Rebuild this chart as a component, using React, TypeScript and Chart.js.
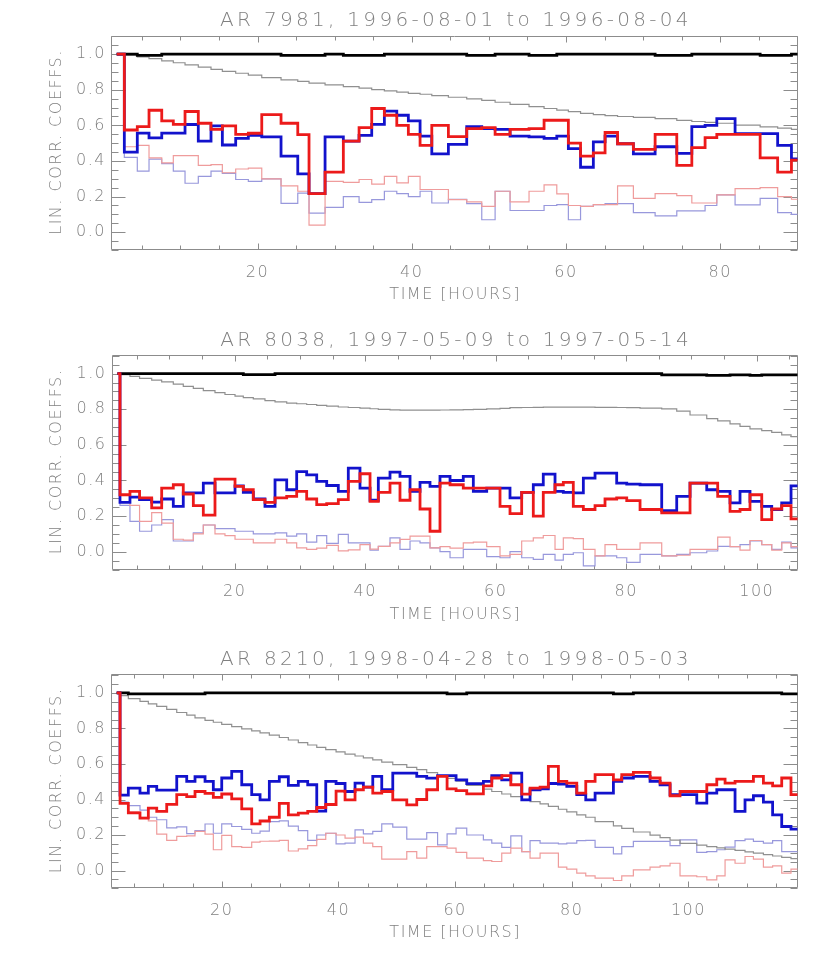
import React, { useEffect, useRef } from 'react';
import { Chart, registerables } from 'chart.js';

Chart.register(...registerables);

// ---------------- data ----------------
const X_LABEL = 'TIME [HOURS]';
const Y_LABEL = 'LIN. CORR. COEFFS.';
const Y_TICKS = [0, 0.2, 0.4, 0.6, 0.8, 1.0];
const Y_RANGE = [-0.1, 1.105];

// Panel 1: AR 7981
const TITLE_1 = 'AR 7981, 1996-08-01 to 1996-08-04';
const X_TICKS_1 = [20, 40, 60, 80];
const X_RANGE_1 = [1.0, 90.05];
const EDGES_1 = [1.74, 2.73, 4.41, 5.93, 7.58, 9.08, 10.6, 12.32, 13.97, 15.44, 17.17, 18.81, 20.55, 23.05, 25.22, 26.68, 28.76, 31.13, 33.17, 34.81, 36.45, 38.06, 39.56, 41.08, 42.6, 44.75, 47.13, 49.08, 50.81, 52.75, 55.21, 57.16, 58.81, 60.31, 61.89, 63.55, 65.07, 66.69, 68.74, 71.56, 74.37, 76.32, 78.04, 79.56, 81.93, 85.18, 87.45, 89.24, 90.05];
const BLACK_1 = [1, 1, 0.993, 0.993, 1, 1, 1, 1, 1, 1, 1, 1, 1, 0.993, 0.993, 0.993, 1, 0.993, 0.993, 0.993, 1, 1, 1, 1, 1, 1, 0.993, 0.993, 1, 1, 0.993, 0.993, 1, 1, 1, 1, 1, 1, 1, 0.993, 0.993, 1, 1, 1, 1, 0.993, 0.993, 1];
const GRAY_1 = [1.0, 0.995, 0.985, 0.975, 0.963, 0.952, 0.94, 0.927, 0.915, 0.903, 0.893, 0.882, 0.868, 0.856, 0.847, 0.838, 0.828, 0.818, 0.809, 0.801, 0.794, 0.787, 0.78, 0.775, 0.767, 0.758, 0.749, 0.741, 0.73, 0.718, 0.705, 0.695, 0.686, 0.677, 0.668, 0.66, 0.655, 0.65, 0.645, 0.638, 0.628, 0.622, 0.617, 0.612, 0.602, 0.592, 0.585, 0.578];
const BLUE_1 = [1.0, 0.45, 0.557, 0.53, 0.557, 0.557, 0.605, 0.512, 0.597, 0.49, 0.527, 0.544, 0.535, 0.427, 0.328, 0.217, 0.535, 0.512, 0.544, 0.606, 0.68, 0.657, 0.625, 0.54, 0.44, 0.493, 0.593, 0.582, 0.578, 0.54, 0.535, 0.527, 0.54, 0.469, 0.365, 0.507, 0.54, 0.497, 0.44, 0.48, 0.443, 0.593, 0.6, 0.638, 0.554, 0.554, 0.488, 0.412];
const RED_1 = [1.0, 0.574, 0.593, 0.685, 0.625, 0.606, 0.678, 0.612, 0.578, 0.597, 0.55, 0.556, 0.661, 0.612, 0.548, 0.217, 0.337, 0.512, 0.588, 0.695, 0.657, 0.6, 0.55, 0.488, 0.6, 0.537, 0.582, 0.588, 0.55, 0.578, 0.582, 0.629, 0.629, 0.5, 0.427, 0.446, 0.56, 0.497, 0.465, 0.55, 0.375, 0.475, 0.531, 0.55, 0.55, 0.418, 0.337, 0.405];
const PINK_1 = [1.0, 0.48, 0.488, 0.418, 0.39, 0.43, 0.43, 0.375, 0.38, 0.334, 0.355, 0.36, 0.3, 0.26, 0.23, 0.04, 0.285, 0.28, 0.296, 0.27, 0.314, 0.277, 0.314, 0.24, 0.24, 0.183, 0.17, 0.145, 0.23, 0.17, 0.23, 0.266, 0.215, 0.15, 0.145, 0.155, 0.155, 0.26, 0.19, 0.217, 0.205, 0.164, 0.164, 0.21, 0.245, 0.25, 0.2, 0.185];
const LBLUE_1 = [1.0, 0.42, 0.343, 0.41, 0.385, 0.343, 0.275, 0.314, 0.343, 0.33, 0.296, 0.285, 0.3, 0.162, 0.22, 0.107, 0.14, 0.2, 0.168, 0.183, 0.23, 0.217, 0.2, 0.23, 0.164, 0.185, 0.16, 0.07, 0.23, 0.122, 0.122, 0.15, 0.155, 0.07, 0.145, 0.155, 0.16, 0.16, 0.11, 0.092, 0.12, 0.12, 0.15, 0.21, 0.154, 0.19, 0.11, 0.1];

// Panel 2: AR 8038
const TITLE_2 = 'AR 8038, 1997-05-09 to 1997-05-14';
const X_TICKS_2 = [20, 40, 60, 80, 100];
const X_RANGE_2 = [1.12, 106.28];
const EDGES_2 = [2.04, 2.42, 3.95, 5.42, 7.28, 8.81, 10.59, 12.12, 13.66, 15.19, 16.98, 18.51, 20.05, 21.32, 22.85, 24.64, 26.18, 27.97, 29.5, 31.03, 32.57, 34.1, 35.88, 37.41, 39.2, 40.74, 42.01, 43.8, 45.33, 46.87, 48.4, 49.93, 51.46, 53.0, 55.03, 56.57, 58.62, 60.66, 62.19, 63.98, 65.76, 67.29, 69.09, 70.36, 71.89, 73.43, 75.22, 76.75, 78.54, 80.08, 82.12, 85.44, 87.74, 89.78, 92.34, 94.02, 95.91, 97.44, 98.97, 100.77, 102.3, 103.83, 105.26, 106.28];
const BLACK_2 = [1, 1, 1, 1, 1, 1, 1, 1, 1, 1, 1, 1, 1, 0.995, 0.995, 0.995, 1, 1, 1, 1, 1, 1, 1, 1, 1, 1, 1, 1, 1, 1, 1, 1, 1, 1, 1, 1, 1, 1, 1, 1, 1, 1, 1, 1, 1, 1, 1, 1, 1, 1, 1, 0.993, 0.993, 0.993, 0.99, 0.99, 0.993, 0.993, 0.99, 0.993, 0.993, 0.993, 0.993];
const GRAY_2 = [1.0, 0.995, 0.985, 0.974, 0.964, 0.954, 0.941, 0.929, 0.917, 0.905, 0.894, 0.883, 0.874, 0.866, 0.858, 0.849, 0.842, 0.835, 0.831, 0.827, 0.822, 0.818, 0.813, 0.81, 0.806, 0.803, 0.8, 0.797, 0.795, 0.795, 0.795, 0.795, 0.796, 0.797, 0.798, 0.799, 0.802, 0.805, 0.809, 0.81, 0.811, 0.812, 0.812, 0.812, 0.812, 0.812, 0.811, 0.811, 0.81, 0.809, 0.806, 0.802, 0.79, 0.768, 0.748, 0.735, 0.718, 0.704, 0.69, 0.68, 0.67, 0.656, 0.647];
const BLUE_2 = [1.0, 0.277, 0.307, 0.292, 0.279, 0.296, 0.255, 0.33, 0.33, 0.385, 0.33, 0.33, 0.37, 0.333, 0.296, 0.255, 0.404, 0.348, 0.45, 0.432, 0.395, 0.372, 0.339, 0.469, 0.357, 0.289, 0.413, 0.447, 0.423, 0.339, 0.39, 0.367, 0.423, 0.4, 0.423, 0.339, 0.357, 0.357, 0.302, 0.333, 0.376, 0.436, 0.339, 0.333, 0.33, 0.413, 0.441, 0.441, 0.385, 0.38, 0.376, 0.231, 0.311, 0.385, 0.348, 0.339, 0.274, 0.339, 0.283, 0.255, 0.237, 0.274, 0.37];
const RED_2 = [1.0, 0.32, 0.339, 0.302, 0.246, 0.357, 0.376, 0.324, 0.259, 0.205, 0.408, 0.408, 0.367, 0.348, 0.292, 0.277, 0.302, 0.311, 0.339, 0.296, 0.264, 0.27, 0.292, 0.395, 0.438, 0.283, 0.333, 0.385, 0.289, 0.348, 0.24, 0.115, 0.385, 0.376, 0.357, 0.357, 0.357, 0.255, 0.214, 0.333, 0.2, 0.333, 0.376, 0.389, 0.255, 0.237, 0.259, 0.296, 0.302, 0.287, 0.237, 0.218, 0.218, 0.385, 0.385, 0.311, 0.227, 0.237, 0.32, 0.18, 0.24, 0.259, 0.184];
const PINK_2 = [1.0, 0.28, 0.26, 0.17, 0.22, 0.16, 0.07, 0.065, 0.1, 0.15, 0.1, 0.09, 0.07, 0.07, 0.05, 0.05, 0.07, 0.05, 0.022, 0.013, 0.02, 0.035, 0.005, 0.01, 0.04, 0.015, 0.03, 0.05, 0.069, 0.088, 0.088, 0.022, 0.028, 0.02, 0.05, 0.054, 0.028, -0.024, -0.015, 0.06, 0.078, 0.091, 0.013, 0.078, 0.073, 0.013, -0.024, 0.04, 0.013, 0.013, 0.05, -0.024, -0.02, 0.013, 0.013, 0.082, 0.028, 0.009, 0.063, 0.04, 0.009, 0.05, 0.028];
const LBLUE_2 = [1.0, 0.26, 0.17, 0.115, 0.15, 0.18, 0.06, 0.06, 0.106, 0.15, 0.13, 0.13, 0.115, 0.115, 0.1, 0.1, 0.106, 0.088, 0.1, 0.054, 0.09, 0.047, 0.097, 0.05, 0.05, 0.009, 0.03, 0.078, 0.013, 0.06, 0.05, 0.022, 0.0, -0.034, 0.013, 0.013, -0.028, -0.034, 0.0, -0.034, -0.043, -0.015, -0.047, -0.015, -0.006, -0.08, -0.024, -0.024, -0.034, -0.06, -0.015, -0.024, -0.015, -0.006, 0.004, 0.03, 0.028, 0.04, 0.06, 0.04, 0.013, 0.054, 0.022];

// Panel 3: AR 8210
const TITLE_3 = 'AR 8210, 1998-04-28 to 1998-05-03';
const X_TICKS_3 = [20, 40, 60, 80, 100];
const X_RANGE_3 = [1.02, 118.73];
const EDGES_3 = [2.0, 2.57, 3.99, 5.99, 7.42, 8.86, 10.57, 12.29, 14.0, 15.42, 17.14, 18.56, 20.0, 21.71, 23.43, 25.14, 26.57, 28.16, 29.87, 31.42, 33.13, 34.74, 36.29, 37.83, 39.6, 41.14, 42.85, 44.28, 45.89, 47.43, 49.32, 51.72, 53.43, 55.14, 57.0, 58.63, 60.17, 62.0, 64.85, 66.29, 68.0, 69.55, 71.43, 72.85, 74.57, 75.99, 77.71, 79.15, 80.86, 82.4, 84.0, 87.14, 88.57, 90.56, 93.42, 95.14, 96.85, 98.56, 101.43, 103.15, 104.86, 106.28, 107.99, 109.7, 111.14, 112.85, 114.43, 115.99, 117.58, 118.73];
const BLACK_3 = [1, 1, 0.995, 0.995, 0.995, 0.995, 0.995, 0.995, 0.995, 0.995, 1, 1, 1, 1, 1, 1, 1, 1, 1, 1, 1, 1, 1, 1, 1, 1, 1, 1, 1, 1, 1, 1, 1, 1, 1, 0.995, 0.995, 1, 1, 1, 1, 1, 1, 1, 1, 1, 1, 1, 1, 1, 1, 0.995, 0.995, 1, 1, 1, 1, 1, 1, 1, 1, 1, 1, 1, 1, 1, 1, 0.995, 0.995];
const GRAY_3 = [1.0, 0.985, 0.968, 0.952, 0.939, 0.924, 0.907, 0.89, 0.875, 0.86, 0.846, 0.835, 0.823, 0.81, 0.798, 0.786, 0.775, 0.762, 0.749, 0.735, 0.72, 0.707, 0.694, 0.681, 0.668, 0.656, 0.645, 0.634, 0.623, 0.611, 0.596, 0.581, 0.568, 0.551, 0.535, 0.519, 0.503, 0.48, 0.458, 0.445, 0.431, 0.416, 0.401, 0.388, 0.375, 0.361, 0.345, 0.33, 0.314, 0.3, 0.275, 0.252, 0.237, 0.217, 0.199, 0.185, 0.171, 0.153, 0.143, 0.135, 0.128, 0.121, 0.113, 0.105, 0.098, 0.09, 0.082, 0.074, 0.067];
const BLUE_3 = [1.0, 0.425, 0.464, 0.436, 0.474, 0.453, 0.453, 0.53, 0.502, 0.528, 0.502, 0.455, 0.521, 0.558, 0.483, 0.427, 0.398, 0.502, 0.528, 0.48, 0.502, 0.483, 0.335, 0.502, 0.49, 0.445, 0.492, 0.47, 0.53, 0.455, 0.549, 0.549, 0.53, 0.52, 0.535, 0.535, 0.51, 0.489, 0.502, 0.535, 0.51, 0.549, 0.398, 0.455, 0.46, 0.49, 0.487, 0.474, 0.427, 0.398, 0.436, 0.502, 0.521, 0.53, 0.502, 0.483, 0.427, 0.427, 0.38, 0.436, 0.455, 0.455, 0.333, 0.398, 0.421, 0.385, 0.314, 0.248, 0.233];
const RED_3 = [1.0, 0.378, 0.325, 0.295, 0.351, 0.333, 0.373, 0.427, 0.416, 0.445, 0.434, 0.412, 0.431, 0.403, 0.347, 0.263, 0.279, 0.3, 0.378, 0.314, 0.323, 0.333, 0.355, 0.372, 0.447, 0.398, 0.455, 0.47, 0.436, 0.445, 0.398, 0.37, 0.4, 0.455, 0.53, 0.46, 0.45, 0.432, 0.477, 0.521, 0.534, 0.483, 0.43, 0.464, 0.47, 0.586, 0.502, 0.492, 0.436, 0.502, 0.54, 0.511, 0.54, 0.553, 0.521, 0.492, 0.421, 0.445, 0.445, 0.483, 0.515, 0.492, 0.502, 0.502, 0.53, 0.492, 0.477, 0.521, 0.427];
const PINK_3 = [1.0, 0.378, 0.33, 0.3, 0.28, 0.205, 0.17, 0.192, 0.195, 0.22, 0.205, 0.117, 0.198, 0.135, 0.13, 0.16, 0.165, 0.166, 0.17, 0.11, 0.122, 0.14, 0.175, 0.21, 0.2, 0.182, 0.188, 0.154, 0.135, 0.064, 0.064, 0.107, 0.07, 0.135, 0.135, 0.126, 0.102, 0.07, 0.056, 0.051, 0.098, 0.126, 0.107, 0.07, 0.098, 0.098, 0.019, 0.008, -0.015, -0.03, -0.043, -0.056, -0.03, 0.004, 0.019, 0.026, 0.041, -0.03, -0.035, -0.053, -0.03, 0.06, 0.041, 0.079, 0.064, 0.019, 0.026, -0.015, 0.008];
const LBLUE_3 = [1.0, 0.385, 0.365, 0.34, 0.3, 0.286, 0.24, 0.246, 0.208, 0.225, 0.262, 0.21, 0.263, 0.248, 0.232, 0.21, 0.222, 0.275, 0.28, 0.25, 0.225, 0.17, 0.2, 0.21, 0.15, 0.154, 0.229, 0.207, 0.22, 0.263, 0.244, 0.177, 0.177, 0.214, 0.145, 0.207, 0.239, 0.2, 0.173, 0.154, 0.13, 0.195, 0.107, 0.169, 0.154, 0.154, 0.15, 0.154, 0.169, 0.17, 0.13, 0.094, 0.135, 0.164, 0.164, 0.164, 0.14, 0.173, 0.102, 0.107, 0.117, 0.132, 0.169, 0.177, 0.164, 0.154, 0.169, 0.107, 0.107];

// ---------------- styling / layout ----------------
const W = 830;
const CANVAS_H = 320;
const FONT = '"DejaVu Sans", "Liberation Sans", sans-serif';
const FONT_WEIGHT = 200;
const TEXT_COLOR = '#808080';
const FRAME_COLOR = '#8c8c8c';

type Area = { left: number; right: number; top: number; bottom: number };
type PanelCfg = {
  title: string;
  canvasTop: number;
  area: Area;
  xRange: number[];
  xTicks: number[];
  edges: number[];
  black: number[];
  gray: number[];
  blue: number[];
  red: number[];
  pink: number[];
  lblue: number[];
};

const PANELS: PanelCfg[] = [
  { title: TITLE_1, canvasTop: 0, area: { left: 111, right: 797.7, top: 35.5, bottom: 250 }, xRange: X_RANGE_1, xTicks: X_TICKS_1, edges: EDGES_1, black: BLACK_1, gray: GRAY_1, blue: BLUE_1, red: RED_1, pink: PINK_1, lblue: LBLUE_1 },
  { title: TITLE_2, canvasTop: 320, area: { left: 111.5, right: 797.7, top: 35, bottom: 249.5 }, xRange: X_RANGE_2, xTicks: X_TICKS_2, edges: EDGES_2, black: BLACK_2, gray: GRAY_2, blue: BLUE_2, red: RED_2, pink: PINK_2, lblue: LBLUE_2 },
  { title: TITLE_3, canvasTop: 639, area: { left: 111, right: 797.7, top: 35.3, bottom: 249.3 }, xRange: X_RANGE_3, xTicks: X_TICKS_3, edges: EDGES_3, black: BLACK_3, gray: GRAY_3, blue: BLUE_3, red: RED_3, pink: PINK_3, lblue: LBLUE_3 },
];

function steps(edges: number[], values: number[]) {
  const pts = values.map((v, i) => ({ x: edges[i], y: v }));
  pts.push({ x: edges[values.length], y: values[values.length - 1] });
  return pts;
}

const spacingPlugin = {
  id: 'idlSpacing',
  beforeDraw(chart: any) {
    chart.ctx.letterSpacing = '1.5px';
  },
};

const framePlugin = {
  id: 'idlFrame',
  beforeDatasetsDraw(chart: any) {
    const { ctx, chartArea: a, scales } = chart;
    const xs = scales.x;
    const ys = scales.y;
    const majorX: number[] = chart.options.plugins.idlFrame.xTicks;
    ctx.save();
    ctx.strokeStyle = FRAME_COLOR;
    ctx.lineWidth = 1;
    const L = Math.round(a.left) + 0.5;
    const R = Math.round(a.right) - 0.5;
    const T = Math.round(a.top) + 0.5;
    const B = Math.round(a.bottom) - 0.5;
    ctx.beginPath();
    ctx.rect(L, T, R - L, B - T);
    // x ticks (inward, bottom and top)
    for (let v = Math.ceil(xs.min / 5) * 5; v <= xs.max; v += 5) {
      const px = Math.round(xs.getPixelForValue(v)) + 0.5;
      const len = majorX.includes(v) ? 6 : 4;
      ctx.moveTo(px, B);
      ctx.lineTo(px, B - len);
      ctx.moveTo(px, T);
      ctx.lineTo(px, T + len);
    }
    // y ticks (inward, left and right)
    for (let k = -2; k <= 22; k++) {
      const v = k * 0.05;
      if (v < ys.min - 1e-9 || v > ys.max + 1e-9) continue;
      const py = Math.round(ys.getPixelForValue(v)) + 0.5;
      const len = k % 4 === 0 ? 14 : 7;
      ctx.moveTo(L, py);
      ctx.lineTo(L + len, py);
      ctx.moveTo(R, py);
      ctx.lineTo(R - len, py);
    }
    ctx.stroke();
    ctx.restore();
  },
};

const textPlugin = {
  id: 'idlText',
  afterDraw(chart: any) {
    const { ctx, chartArea: a } = chart;
    const title: string = chart.options.plugins.idlText.title;
    const cx = (a.left + a.right) / 2;
    ctx.save();
    ctx.fillStyle = TEXT_COLOR;
    ctx.textAlign = 'center';
    ctx.textBaseline = 'alphabetic';
    ctx.font = `${FONT_WEIGHT} 20px ${FONT}`;
    ctx.letterSpacing = '3.3px';
    ctx.fillText(title, cx + 1.6, a.top - 9.3);
    ctx.font = `${FONT_WEIGHT} 16px ${FONT}`;
    ctx.letterSpacing = '1.5px';
    ctx.fillText(X_LABEL, cx + 0.8, a.bottom + 49);
    ctx.translate(60.5, (a.top + a.bottom) / 2);
    ctx.rotate(-Math.PI / 2);
    ctx.fillText(Y_LABEL, 0.8, 0);
    ctx.restore();
  },
};

function buildConfig(p: PanelCfg): any {
  const thin = 1.2;
  const thick = 2.8;
  const common = { pointRadius: 0, stepped: true, borderCapStyle: 'butt', borderJoinStyle: 'miter', fill: false };
  return {
    type: 'line',
    data: {
      datasets: [
        { ...common, label: 'red', data: steps(p.edges, p.red), borderColor: '#ec1a1a', borderWidth: thick, order: 0 },
        { ...common, label: 'blue', data: steps(p.edges, p.blue), borderColor: '#1212cc', borderWidth: thick, order: 1 },
        { ...common, label: 'black', data: steps(p.edges, p.black), borderColor: '#000000', borderWidth: thick, order: 2 },
        { ...common, label: 'gray', data: steps(p.edges, p.gray), borderColor: '#909090', borderWidth: thin, order: 3 },
        { ...common, label: 'pink', data: steps(p.edges, p.pink), borderColor: '#ef9c9c', borderWidth: thin, order: 4 },
        { ...common, label: 'lightblue', data: steps(p.edges, p.lblue), borderColor: '#9898dc', borderWidth: thin, order: 5 },
      ],
    },
    options: {
      responsive: false,
      animation: false,
      devicePixelRatio: 1,
      events: [],
      layout: { padding: { left: 0, right: W - p.area.right, top: p.area.top, bottom: 0 } },
      plugins: {
        legend: { display: false },
        tooltip: { enabled: false },
        title: { display: false },
        idlFrame: { xTicks: p.xTicks },
        idlText: { title: p.title },
      },
      scales: {
        x: {
          type: 'linear',
          min: p.xRange[0],
          max: p.xRange[1],
          grid: { display: false, drawTicks: false },
          border: { display: false },
          ticks: {
            color: TEXT_COLOR,
            font: { family: FONT, size: 16, weight: FONT_WEIGHT },
            padding: 13,
            autoSkip: false,
            maxRotation: 0,
            callback: (v: any) => String(Math.round(Number(v))),
          },
          afterBuildTicks: (s: any) => {
            s.ticks = p.xTicks.map((v) => ({ value: v }));
          },
          afterFit: (s: any) => {
            s.height = CANVAS_H - p.area.bottom;
          },
        },
        y: {
          type: 'linear',
          min: Y_RANGE[0],
          max: Y_RANGE[1],
          grid: { display: false, drawTicks: false },
          border: { display: false },
          ticks: {
            color: TEXT_COLOR,
            font: { family: FONT, size: 16, weight: FONT_WEIGHT },
            padding: 5,
            autoSkip: false,
            callback: (v: any) => Number(v).toFixed(1),
          },
          afterBuildTicks: (s: any) => {
            s.ticks = Y_TICKS.map((v) => ({ value: v }));
          },
          afterFit: (s: any) => {
            s.width = p.area.left;
          },
        },
      },
    },
    plugins: [spacingPlugin, framePlugin, textPlugin],
  };
}

function Panel({ cfg }: { cfg: PanelCfg }) {
  const ref = useRef<HTMLCanvasElement>(null);
  useEffect(() => {
    const chart = new Chart(ref.current as HTMLCanvasElement, buildConfig(cfg));
    return () => chart.destroy();
  }, [cfg]);
  return (
    <canvas
      ref={ref}
      width={W}
      height={CANVAS_H}
      style={{ position: 'absolute', left: 0, top: cfg.canvasTop, width: W, height: CANVAS_H, display: 'block' }}
    />
  );
}

export default function App() {
  return (
    <div style={{ position: 'absolute', left: 0, top: 0, width: W, height: 959, background: '#ffffff', overflow: 'hidden' }}>
      {PANELS.map((p) => (
        <Panel key={p.title} cfg={p} />
      ))}
    </div>
  );
}
